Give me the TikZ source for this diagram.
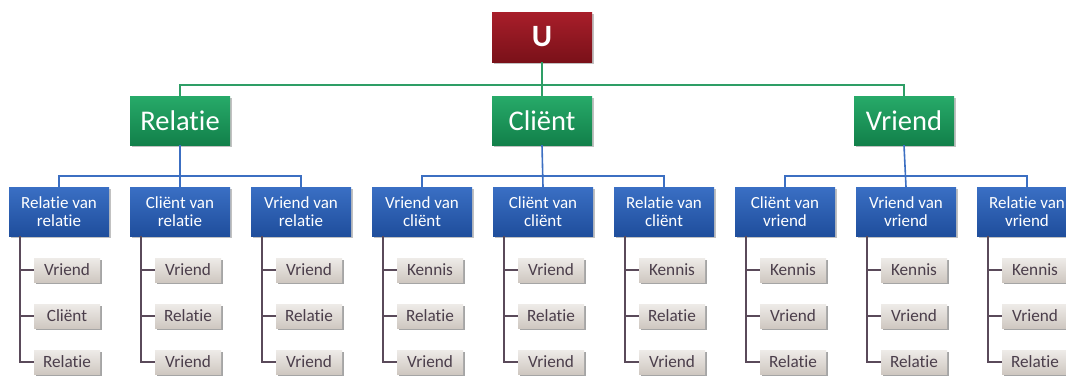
\documentclass[tikz,border=0pt]{standalone}
\usepackage{fontspec}
\setmainfont{Carlito}[Ligatures=NoCommon]
\usetikzlibrary{shadows}

\definecolor{redT}{HTML}{A81E2A}
\definecolor{redB}{HTML}{7A1119}
\definecolor{greenT}{HTML}{27AA69}
\definecolor{greenB}{HTML}{12804A}
\definecolor{blueT}{HTML}{3A6FC4}
\definecolor{blueB}{HTML}{1F4E9C}
\definecolor{leafT}{HTML}{EEEBE8}
\definecolor{leafB}{HTML}{CFC8C1}
\definecolor{leafText}{HTML}{4B3E4B}
\definecolor{greenLine}{HTML}{2E9E66}
\definecolor{blueLine}{HTML}{3C6FC2}
\definecolor{leafLine}{HTML}{5A4A5A}

\tikzset{
  boxbase/.style={rectangle, inner sep=0pt, align=center,
    drop shadow={shadow xshift=1.5pt, shadow yshift=-2pt, opacity=0.35, fill=black!70}},
  topbox/.style={boxbase, minimum width=100pt, minimum height=50pt,
    top color=redT, bottom color=redB, text=white,
    font=\fontsize{31}{31}\selectfont\bfseries},
  groupbox/.style={boxbase, minimum width=100pt, minimum height=49pt,
    top color=greenT, bottom color=greenB, text=white,
    font=\fontsize{28.5}{28.5}\selectfont},
  subbox/.style={boxbase, minimum width=100pt, minimum height=49pt,
    top color=blueT, bottom color=blueB, text=white,
    font=\fontsize{17}{18.5}\selectfont},
  leafbox/.style={boxbase, minimum width=66pt, minimum height=24pt,
    top color=leafT, bottom color=leafB, text=leafText,
    drop shadow={shadow xshift=1.5pt, shadow yshift=-1.8pt, opacity=0.3, fill=black!60},
    font=\fontsize{17.2}{18.5}\selectfont},
  greenwire/.style={draw=greenLine, line width=1.6pt},
  bluewire/.style={draw=blueLine, line width=1.6pt},
  leafwire/.style={draw=leafLine, line width=1.5pt},
}

\begin{document}
\begin{tikzpicture}[x=1pt,y=-1pt]
\useasboundingbox (0,0) rectangle (1066,376);
\clip (0,0) rectangle (1066,376);

% root and the three groups
\node[topbox] (U) at (542,37) {U};
\node[groupbox] (r) at (180,120.5) {Relatie};
\node[groupbox] (c) at (542,120.5) {Cliënt};
\node[groupbox] (v) at (904,120.5) {Vriend};

\coordinate (bU) at (542,85);
\draw[greenwire] (r.north) |- (bU) -| (v.north);
\draw[greenwire] (U.south) -- (c.north);

% second level with their leaves
\foreach \i/\ta/\tb/\la/\lb/\lc in {
  0/Relatie van/relatie/Vriend/Cliënt/Relatie,
  1/Cliënt van/relatie/Vriend/Relatie/Vriend,
  2/Vriend van/relatie/Vriend/Relatie/Vriend,
  3/Vriend van/cliënt/Kennis/Relatie/Vriend,
  4/Cliënt van/cliënt/Vriend/Relatie/Vriend,
  5/Relatie van/cliënt/Kennis/Relatie/Vriend,
  6/Cliënt van/vriend/Kennis/Vriend/Relatie,
  7/Vriend van/vriend/Kennis/Vriend/Relatie,
  8/Relatie van/vriend/Kennis/Vriend/Relatie}{
  \node[subbox] (s\i) at ({59+121*\i},211.5) {\ta\\\tb};
  \node[leafbox] (s\i a) at ({67+121*\i},270) {\la};
  \node[leafbox] (s\i b) at ({67+121*\i},316) {\lb};
  \node[leafbox] (s\i c) at ({67+121*\i},362) {\lc};
  \draw[leafwire] ([xshift=11pt]s\i.south west) |- (s\i c.west);
  \draw[leafwire] ([xshift=11pt]s\i.south west) |- (s\i a.west);
  \draw[leafwire] ([xshift=11pt]s\i.south west) |- (s\i b.west);
}

% group to second level connectors
\coordinate (bR) at (180,176);
\coordinate (bC) at (542,176);
\coordinate (bV) at (904,176);
\draw[bluewire] (s0.north) |- (bR) -| (s2.north);
\draw[bluewire] (r.south) -- (s1.north);
\draw[bluewire] (s3.north) |- (bC) -| (s5.north);
\draw[bluewire] (c.south) -- (s4.north);
\draw[bluewire] (s6.north) |- (bV) -| (s8.north);
\draw[bluewire] (v.south) -- (s7.north);
\end{tikzpicture}
\end{document}
